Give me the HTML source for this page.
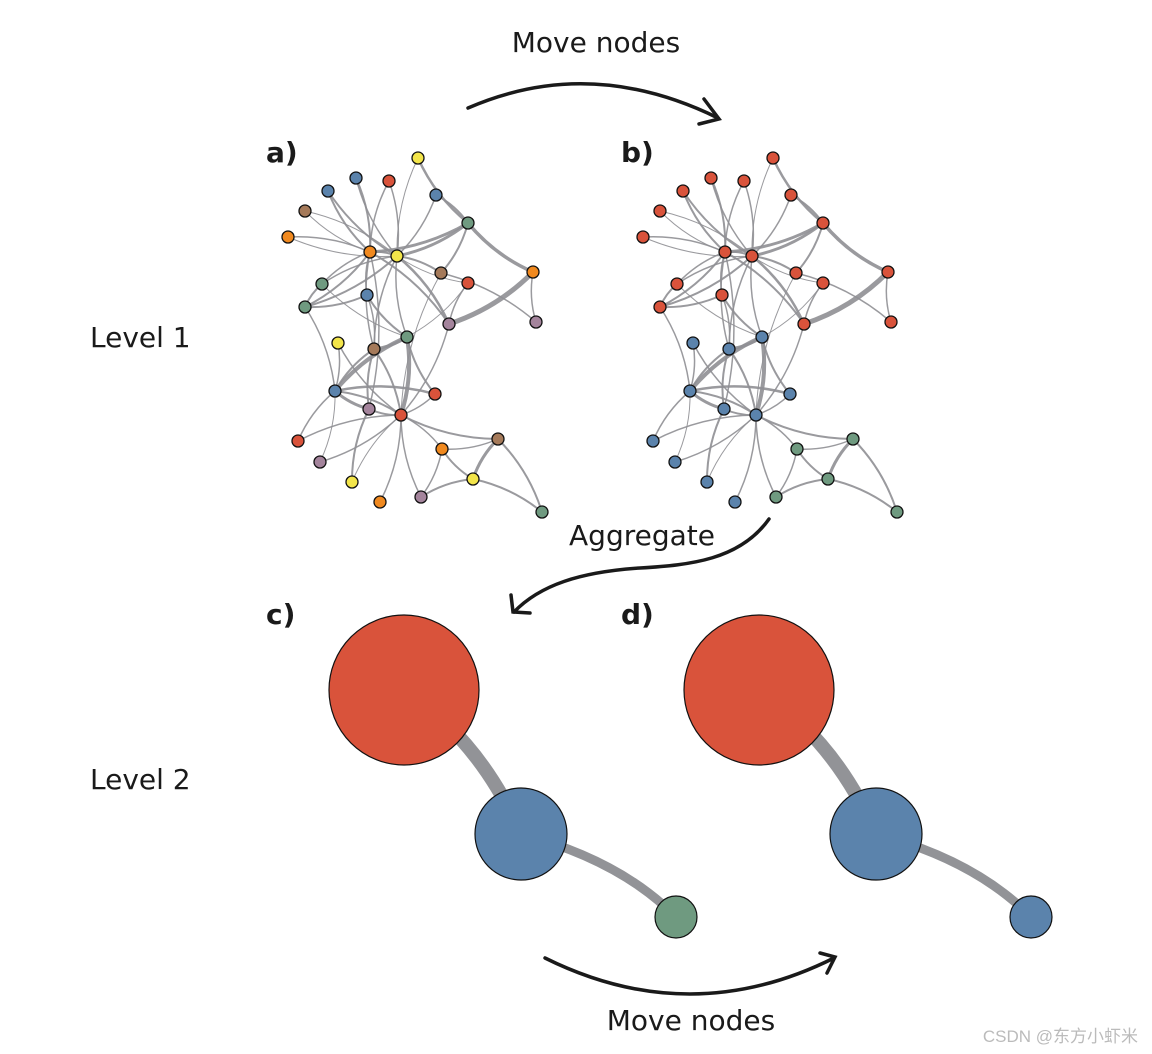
<!DOCTYPE html>
<html><head><meta charset="utf-8"><style>
body{margin:0;background:#fff;}
svg{display:block;font-family:"DejaVu Sans","Liberation Sans",sans-serif;}
</style></head><body>
<svg id="s" width="1152" height="1054" viewBox="0 0 1152 1054" xmlns="http://www.w3.org/2000/svg">
<g fill="#1a1a1a">
<text x="596" y="52" font-size="28" text-anchor="middle">Move nodes</text>
<text x="642" y="545" font-size="28" text-anchor="middle">Aggregate</text>
<text x="691" y="1030" font-size="28" text-anchor="middle">Move nodes</text>
<text x="90" y="347" font-size="28">Level 1</text>
<text x="90" y="789" font-size="28">Level 2</text>
<text x="266" y="162" font-size="28" font-weight="bold">a)</text>
<text x="621" y="162" font-size="28" font-weight="bold">b)</text>
<text x="266" y="624" font-size="28" font-weight="bold">c)</text>
<text x="621" y="624" font-size="28" font-weight="bold">d)</text>
<text x="1138" y="1042" font-size="17" fill="#bbb" text-anchor="end" font-family="'Liberation Sans','Noto Sans CJK SC',sans-serif">CSDN @东方小虾米</text>
</g>
<g fill="none" stroke="#1a1a1a" stroke-width="3.5" stroke-linecap="round">
<path d="M468,108 Q590,55 718,118"/><path d="M704,99 L719,119 L699,124"/>
<path d="M769,519 C740,560 690,565 640,568 C580,572 540,585 514,612"/><path d="M511,595 L513,612 L530,613"/>
<path d="M545,958 Q690,1030 834,958"/><path d="M820,953 L835,957 L827,973"/>
</g>
<g id="l2" stroke-linecap="round">
<path d="M404,690 Q480,740 521,834" stroke="#929397" stroke-width="14" fill="none"/>
<path d="M521,834 Q620,860 676,917" stroke="#929397" stroke-width="9" fill="none"/>
<circle cx="404" cy="690" r="75" fill="#d9533b" stroke="#111" stroke-width="1.2"/>
<circle cx="521" cy="834" r="46" fill="#5b83ac" stroke="#111" stroke-width="1.2"/>
<circle cx="676" cy="917" r="21" fill="#6f9a80" stroke="#111" stroke-width="1.2"/>
<path d="M759,690 Q835,740 876,834" stroke="#929397" stroke-width="14" fill="none"/>
<path d="M876,834 Q975,860 1031,917" stroke="#929397" stroke-width="9" fill="none"/>
<circle cx="759" cy="690" r="75" fill="#d9533b" stroke="#111" stroke-width="1.2"/>
<circle cx="876" cy="834" r="46" fill="#5b83ac" stroke="#111" stroke-width="1.2"/>
<circle cx="1031" cy="917" r="21" fill="#5b83ac" stroke="#111" stroke-width="1.2"/>
</g>
<g id="ga"></g><g id="gb"></g>
</svg>
<script>
var N=[[418,158],[356,178],[389,181],[328,191],[436,195],[305,211],[468,223],[288,237],[370,252],[397,256],[441,273],[533,272],[468,283],[322,284],[367,295],[305,307],[449,324],[536,322],[407,337],[338,343],[374,349],[335,391],[435,394],[369,409],[401,415],[298,441],[498,439],[442,449],[320,462],[473,479],[352,482],[380,502],[421,497],[542,512]];
var R='#d9533b',B='#5b83ac',G='#6f9a80',Y='#f3e54a',O='#f0891f',Br='#a57a5a',P='#a4849c';
var CA=[Y,B,R,B,B,Br,G,O,O,Y,Br,O,R,G,B,G,P,P,G,Y,Br,B,R,P,R,R,Br,O,P,Y,Y,O,P,G];
var CB=[];for(var i=0;i<34;i++)CB.push(i<18?R:(i==32||i==27||i==26||i==29||i==33?G:B));
var E=[[9,4,2],[9,2,2],[9,6,1],[9,8,1.5],[9,3,1.5],[9,14,1.5],[9,16,2],[9,15,1.5],[9,10,2],[9,7,3],[9,17,2],[9,21,1.5],
[10,2,1.5],[10,3,1.5],[10,4,2],[10,5,1.5],[10,1,1],[10,7,3],[10,11,2],[10,14,1.5],[10,16,2],[10,19,1.5],[10,17,2.5],[10,6,1],[10,8,1],[10,21,1.5],
[5,7,2],[1,7,2.5],[7,11,2],[7,12,3.5],[11,18,1.5],[12,18,1.5],[12,17,5],[13,17,1.5],[13,19,1],[11,25,1],[15,16,2],[15,19,2],[15,21,1.5],[14,19,1],[19,21,3],[19,22,4],[19,25,4],[19,23,2],[17,25,1.5],[21,22,2],[21,25,2],[21,24,2],[20,22,1.5],[20,25,1.5],[22,23,2.5],[22,24,3],[22,25,2],[22,26,1.5],[16,22,1.5],[14,16,2],[23,25,1.5],[24,25,2],[22,29,1],[25,26,1.5],[25,29,1.5],[25,31,1],[25,32,1.5],[25,33,1.5],[25,28,1.5],[25,27,2],[27,28,1.5],[27,30,3],[27,34,2],[28,30,2],[28,33,1.5],[30,33,2],[30,34,2],[24,31,2],[9,24,1.5],[10,13,1]];
function draw(id,dx,C){var g=document.getElementById(id),h='';
E.forEach(function(e,k){var a=N[e[0]-1],b=N[e[1]-1];var x1=a[0]+dx,y1=a[1],x2=b[0]+dx,y2=b[1];var mx=(x1+x2)/2,my=(y1+y2)/2,vx=x2-x1,vy=y2-y1,L=Math.hypot(vx,vy)||1;var o=(k%2?1:-1)*L*0.12;
h+='<path d="M'+x1+','+y1+' Q'+(mx-vy/L*o)+','+(my+vx/L*o)+' '+x2+','+y2+'" fill="none" stroke="#8f8f93" stroke-opacity="0.9" stroke-width="'+e[2]+'"/>';});
N.forEach(function(n,i){h+='<circle cx="'+(n[0]+dx)+'" cy="'+n[1]+'" r="6" fill="'+C[i]+'" stroke="#111" stroke-width="1.3"/>';});
g.innerHTML=h;}
draw('ga',0,CA);draw('gb',355,CB);
</script>
</body></html>
